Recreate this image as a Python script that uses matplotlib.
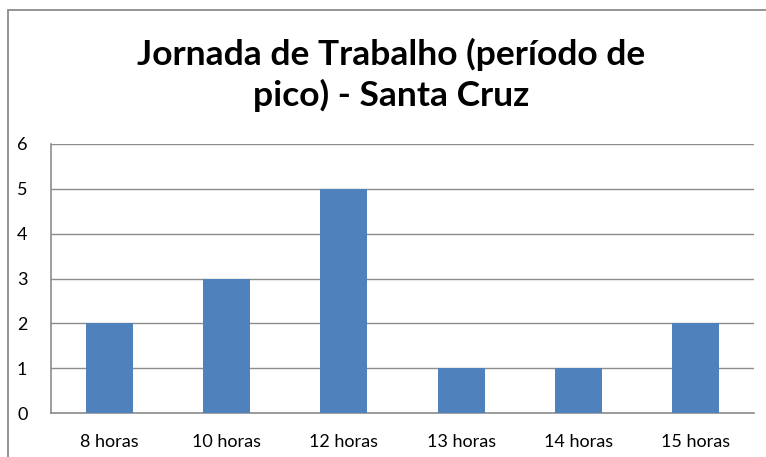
import numpy as np
import matplotlib.pyplot as plt
from matplotlib.patches import Rectangle

categorias = ['8 horas', '10 horas', '12 horas', '13 horas', '14 horas', '15 horas']
valores = [2, 3, 5, 1, 1, 2]
titulo = 'Jornada de Trabalho (período de\npico) - Santa Cruz'

plt.rcParams['font.family'] = ['Lato', 'DejaVu Sans']

W, H = 766, 457
fig = plt.figure(figsize=(W / 100, H / 100), dpi=100)

# moldura do gráfico (cortada à direita e em baixo)
fig.add_artist(Rectangle((8 / W, -0.1), 1.2, 1 - 10 / H + 0.1, transform=fig.transFigure,
                         fill=False, edgecolor='#8c8c8c', linewidth=1.3))

ax = fig.add_axes([51 / W, 1 - 413 / H, (754 - 51) / W, (413 - 144) / H])
x = np.arange(len(categorias))
ax.bar(x, valores, width=0.4, color='#4F81BD', zorder=3)

ax.set_xlim(-0.5, len(categorias) - 0.5)
ax.set_ylim(0, 6)
ax.set_yticks(range(0, 7))
ax.set_xticks(x)
ax.set_xticklabels(categorias)
ax.grid(axis='y', color='#8c8c8c', linewidth=1, zorder=0)
for s in ['top', 'right']:
    ax.spines[s].set_visible(False)
for s in ['left', 'bottom']:
    ax.spines[s].set_color('#8c8c8c')
    ax.spines[s].set_linewidth(1.2)
ax.tick_params(axis='both', length=0, labelsize=13, colors='black')
ax.tick_params(axis='y', pad=17)
ax.tick_params(axis='x', pad=15)

fig.text(391 / W, 1 - 75 / H, titulo, ha='center', va='center', fontsize=25.5,
         fontweight='bold', linespacing=1.3)

fig.savefig('out.png', dpi=100)
